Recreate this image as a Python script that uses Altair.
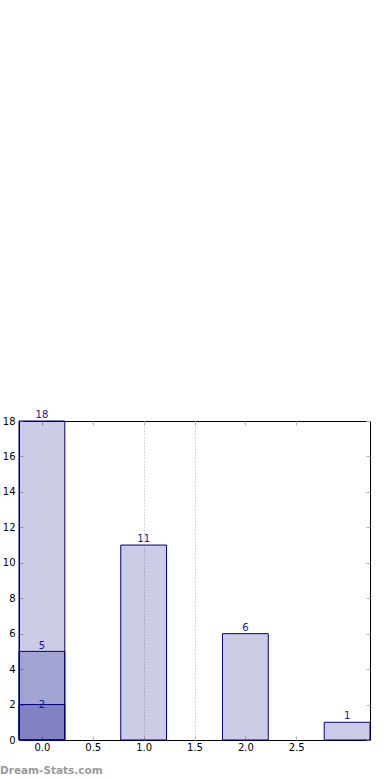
import altair as alt
import pandas as pd

# ---- data ----
positions = [0, 1, 2, 3]
counts = [18, 11, 6, 1]
inner_positions = [0, 0]
inner_counts = [5, 2]

x_ticks = [0.0, 0.5, 1.0, 1.5, 2.0, 2.5]
y_ticks = [0, 2, 4, 6, 8, 10, 12, 14, 16, 18]
grid_x = [1.0, 1.5]
watermark = ["Dream-Stats.com"]

outer = pd.DataFrame({"pos": positions, "count": counts})
inner = pd.DataFrame({"pos": inner_positions, "count": inner_counts})
wm = pd.DataFrame({"t": watermark})

W, H = 351, 319
NAVY = "#000080"
LABEL = "#14148c"
TICK = "#b4b4b4"
FONT = "DejaVu Sans"
HALF = 0.225

xscale = alt.Scale(domain=[-HALF, 3 + HALF], nice=False, zero=False)
yscale = alt.Scale(domain=[0, 18], nice=False)


def bars(df, ax_x=None, ax_y=None):
    return (
        alt.Chart(df)
        .transform_calculate(x1=f"datum.pos - {HALF}", x2=f"datum.pos + {HALF}", base="0")
        .mark_rect(fill=NAVY, fillOpacity=0.2, stroke=NAVY, strokeWidth=1)
        .encode(
            x=alt.X("x1:Q", scale=xscale, axis=ax_x),
            x2="x2:Q",
            y=alt.Y("count:Q", scale=yscale, axis=ax_y),
            y2="base:Q",
        )
    )


def ghost(ax_x=None, ax_y=None):
    return (
        alt.Chart(outer)
        .mark_point(opacity=0)
        .encode(
            x=alt.X("pos:Q", scale=xscale, axis=ax_x),
            y=alt.Y("count:Q", scale=yscale, axis=ax_y),
        )
    )


main_x = alt.Axis(orient="bottom", values=x_ticks, format=".1f", domain=False, ticks=False,
                  grid=False, labelPadding=2, labelFontSize=10, labelColor="black",
                  labelFont=FONT, title=None)
main_y = alt.Axis(orient="left", values=y_ticks, domain=False, ticks=False, grid=False,
                  labelPadding=4, labelFontSize=10, labelColor="black", labelFont=FONT,
                  title=None)


def tick_axis(orient, vals):
    return alt.Axis(orient=orient, values=vals, domain=False, labels=False, ticks=True,
                    tickSize=4, tickColor=TICK, tickWidth=1, offset=-4, grid=False, title=None)


grid_axis = alt.Axis(orient="bottom", values=grid_x, domain=False, labels=False, ticks=False,
                     grid=True, gridDash=[1.5, 1.5], gridColor="#cccccc", gridWidth=1, title=None)

grid_layer = ghost(grid_axis, None)
ticks_bl = ghost(tick_axis("bottom", x_ticks), tick_axis("left", y_ticks))
ticks_tr = ghost(tick_axis("top", x_ticks), tick_axis("right", y_ticks))

outer_bars = bars(outer, main_x, main_y)
inner_bars = bars(inner)

txt = dict(color=LABEL, font=FONT, fontSize=10, baseline="alphabetic", align="center")

outer_labels = alt.Chart(outer).mark_text(dy=-3, **txt).encode(
    x=alt.X("pos:Q", scale=xscale, axis=None),
    y=alt.Y("count:Q", scale=yscale, axis=None),
    text="count:Q",
)
inner_labels_hi = alt.Chart(inner).transform_filter("datum.count >= 5").mark_text(dy=-2, **txt).encode(
    x=alt.X("pos:Q", scale=xscale, axis=None),
    y=alt.Y("count:Q", scale=yscale, axis=None),
    text="count:Q",
)
inner_labels_lo = alt.Chart(inner).transform_filter("datum.count < 5").mark_text(dy=3, **txt).encode(
    x=alt.X("pos:Q", scale=xscale, axis=None),
    y=alt.Y("count:Q", scale=yscale, axis=None),
    text="count:Q",
)

wm_layer = alt.Chart(wm).mark_text(align="left", baseline="alphabetic", font=FONT,
                                   fontSize=10.5, fontWeight="bold", color="#9a9a9a").encode(
    x=alt.value(-19), y=alt.value(353), text="t:N"
)

chart = (
    alt.layer(grid_layer, ticks_bl, ticks_tr, outer_bars, inner_bars,
              outer_labels, inner_labels_hi, inner_labels_lo, wm_layer)
    .resolve_axis(x="independent", y="independent")
    .properties(
        width=W, height=H,
        autosize=alt.AutoSizeParams(type="none"),
        padding={"left": 19, "top": 421, "right": 20, "bottom": 40},
        background="white",
    )
    .configure_view(stroke="black", strokeWidth=1)
)

chart.save("out.html", embed_options={"renderer": "svg", "actions": False})
